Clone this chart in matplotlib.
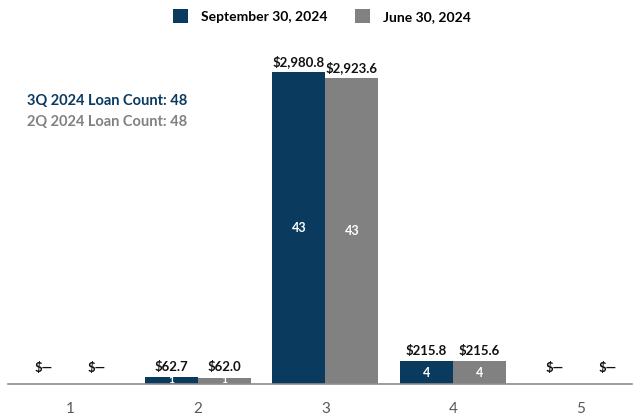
import matplotlib
matplotlib.use("Agg")
import matplotlib.pyplot as plt
import numpy as np

categories = ["1", "2", "3", "4", "5"]
sep_values = [0.0, 62.7, 2980.8, 215.8, 0.0]
jun_values = [0.0, 62.0, 2923.6, 215.6, 0.0]
sep_counts = [0, 1, 43, 4, 0]
jun_counts = [0, 1, 43, 4, 0]
series_names = ["September 30, 2024", "June 30, 2024"]
count_notes = ["3Q 2024 Loan Count: 48", "2Q 2024 Loan Count: 48"]

NAVY = "#0b3a5f"
GRAY = "#818181"

plt.rcParams["font.family"] = ["Lato", "DejaVu Sans"]

fig = plt.figure(figsize=(6.44, 4.19), dpi=100)
ax = fig.add_axes([0.0124, 0.0835, 0.9686, 0.821])

x = np.arange(1, len(categories) + 1)
w = 0.415
b1 = ax.bar(x - w / 2, sep_values, w, color=NAVY, label=series_names[0])
b2 = ax.bar(x + w / 2, jun_values, w, color=GRAY, label=series_names[1])

def fmt(v):
    return "$—" if v == 0 else "${:,.1f}".format(v)

for bars, vals, counts in [(b1, sep_values, sep_counts), (b2, jun_values, jun_counts)]:
    for rect, v, c in zip(bars, vals, counts):
        cx = rect.get_x() + rect.get_width() / 2
        off = 7 if v == 0 else 3
        ax.annotate(fmt(v), (cx, v), xytext=(0, off), textcoords="offset points",
                    ha="center", va="bottom", fontsize=9.5, fontweight="bold", color="#111111")
        if c:
            fs = 9 if v > 100 else 7.5
            ax.text(cx, v / 2, str(c), ha="center", va="center",
                    fontsize=fs, fontweight="bold", color="white")

ax.set_xlim(0.515, 5.40)
ax.set_ylim(0, 3286)
ax.set_xticks(x)
ax.set_xticklabels(categories, fontsize=11, color="#595959")
ax.tick_params(axis="x", length=0, pad=13)
ax.set_yticks([])
for s in ["top", "right", "left"]:
    ax.spines[s].set_visible(False)
ax.spines["bottom"].set_color("#8c8c8c")
ax.spines["bottom"].set_linewidth(1.2)

fig.text(27 / 644, 1 - 101 / 419, count_notes[0], color=NAVY, fontsize=10.5,
         fontweight="bold", va="center", ha="left")
fig.text(27 / 644, 1 - 122 / 419, count_notes[1], color=GRAY, fontsize=10.5,
         fontweight="bold", va="center", ha="left")

leg = fig.legend(handles=[b1, b2], loc="center", bbox_to_anchor=(0.5, 1 - 16 / 419),
                 ncol=2, frameon=False, handlelength=1.1, handleheight=1.1,
                 columnspacing=2.0, handletextpad=0.9, prop={"weight": "bold", "size": 10})

fig.savefig("out.png", dpi=100)
